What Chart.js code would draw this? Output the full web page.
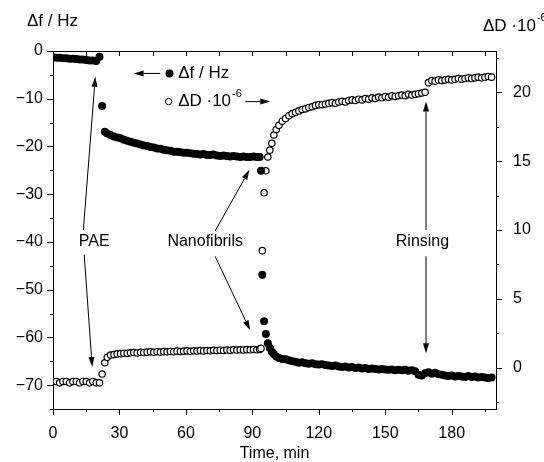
<!DOCTYPE html>
<html>
<head>
<meta charset="utf-8">
<script src="https://cdn.jsdelivr.net/npm/chart.js@4.4.1/dist/chart.umd.min.js"></script>
<style>
  html, body { margin: 0; padding: 0; background: #fff; }
  #chart { display: block; }
</style>
</head>
<body>
<canvas id="chart" width="544" height="462"></canvas>
<script>
// time in minutes, shared by both series
const time = [
  0, 1.5, 3, 4.5, 6, 7.5, 9, 10.5, 12, 13.5, 15, 16.5, 18, 19.5, 21,
  22.2, 23.4, 24.5, 26,
  27.5, 29, 30.5, 32, 33.5, 35, 36.5, 38, 39.5, 41,
  42.5, 44, 45.5, 47, 48.5, 50, 51.5, 53, 54.5, 56,
  57.5, 59, 60.5, 62, 63.5, 65, 66.5, 68, 69.5, 71,
  72.5, 74, 75.5, 77, 78.5, 80, 81.5, 83, 84.5, 86,
  87.5, 89, 90.5, 92, 93.3,
  93.9, 94.5, 95.3, 96.1, 97.0, 97.9, 98.8, 99.7, 100.8, 102, 103.5, 105, 106.5, 108,
  109.5, 111, 112.5, 114, 115.5, 117, 118.5, 120, 121.5, 123,
  124.5, 126, 127.5, 129, 130.5, 132, 133.5, 135, 136.5, 138,
  139.5, 141, 142.5, 144, 145.5, 147, 148.5, 150, 151.5, 153,
  154.5, 156, 157.5, 159, 160.5, 162, 163.5, 165, 166.5, 168,
  169.5, 171, 172.5, 174, 175.5, 177, 178.5, 180, 181.5, 183,
  184.5, 186, 187.5, 189, 190.5, 192, 193.5, 195, 196.5, 198
];

// frequency shift, Hz (left axis, filled circles)
const deltaF = [
  -1.3, -1.4, -1.4, -1.5, -1.5, -1.6, -1.6, -1.7, -1.8, -1.8, -1.9, -2.0, -2.0, -2.1, -1.2,
  -11.5, -16.9, -17.3, -17.6,
  -17.9, -18.1, -18.3, -18.6, -18.8, -19.0, -19.2, -19.4, -19.6, -19.8,
  -19.9, -20.1, -20.2, -20.4, -20.5, -20.7, -20.8, -20.9, -21.1, -21.1,
  -21.2, -21.3, -21.3, -21.4, -21.5, -21.6, -21.7, -21.6, -21.8, -21.8,
  -21.7, -21.9, -22.0, -21.9, -22.0, -22.1, -22.0, -22.1, -22.2, -22.1,
  -22.2, -22.2, -22.1, -22.2, -22.2,
  -25.1, -46.9, -56.6, -59.3, -61.2, -62.2, -63.0, -63.5, -64.0, -64.3, -64.5, -64.6, -64.8, -65.0,
  -65.1, -65.3, -65.2, -65.4, -65.5, -65.4, -65.6, -65.7, -65.6, -65.8,
  -65.9, -66.0, -65.9, -66.1, -66.2, -66.1, -66.3, -66.2, -66.4, -66.3,
  -66.5, -66.4, -66.6, -66.5, -66.6, -66.7, -66.6, -66.7, -66.8, -66.7,
  -66.9, -66.8, -66.9, -66.8, -67.0, -66.9, -67.1, -67.8, -68.0, -67.5,
  -67.3, -67.6, -67.4, -67.7, -67.8, -68.0, -68.1, -68.0, -68.2, -68.1,
  -68.2, -68.3, -68.1, -68.3, -68.2, -68.4, -68.3, -68.4, -68.5, -68.4
];

// dissipation shift, 1e-6 (right axis, open circles)
const deltaD = [
  -1.0, -1.0, -1.1, -1.0, -1.0, -1.1, -1.0, -1.0, -1.1, -1.0, -1.0, -1.1, -1.0, -1.1, -1.1,
  -0.46, 0.36, 0.75, 0.92,
  0.95, 1.0, 1.02, 1.05, 1.04, 1.08, 1.1, 1.07, 1.12, 1.1,
  1.13, 1.15, 1.12, 1.16, 1.14, 1.17, 1.15, 1.18, 1.16, 1.2,
  1.18, 1.2, 1.22, 1.19, 1.23, 1.21, 1.24, 1.22, 1.25, 1.23,
  1.26, 1.24, 1.27, 1.25, 1.28, 1.26, 1.3, 1.28, 1.3, 1.29,
  1.31, 1.3, 1.32, 1.3, 1.33,
  1.4, 8.5, 12.7, 14.3, 15.3, 15.8, 16.3, 16.9, 17.3, 17.6, 17.9, 18.1, 18.3, 18.45,
  18.55, 18.65, 18.75, 18.8, 18.9, 18.95, 19.05, 19.1, 19.1, 19.15,
  19.2, 19.25, 19.2, 19.3, 19.35, 19.3, 19.4, 19.45, 19.4, 19.5,
  19.45, 19.55, 19.5, 19.6, 19.55, 19.65, 19.6, 19.7, 19.65, 19.75,
  19.7, 19.75, 19.8, 19.75, 19.85, 19.8, 19.85, 19.9, 19.95, 20.0,
  20.7, 20.85, 20.8, 20.9, 20.85, 20.9, 20.95, 20.9, 20.95, 21.0,
  20.95, 21.0, 21.05, 21.0, 21.05, 21.1, 21.05, 21.1, 21.15, 21.1
];

const xTicks = [0, 30, 60, 90, 120, 150, 180];
const xMinorTicks = [15, 45, 75, 105, 135, 165, 195];
const fTicks = [0, -10, -20, -30, -40, -50, -60, -70];
const fMinorTicks = [-5, -15, -25, -35, -45, -55, -65, -75];
const dTicks = [0, 5, 10, 15, 20];
const dMinorTicks = [-2.5, 2.5, 7.5, 12.5, 17.5, 22.5];

// labels and arrows, placed in data units (time, Δf)
const labels = [
  { text: 'PAE', t: 18.6, f: -40 },
  { text: 'Nanofibrils', t: 68.7, f: -40 },
  { text: 'Rinsing', t: 166.8, f: -40 }
];
const arrows = [
  { from: [13.7, -37.5], to: [19.1, -5.4] },
  { from: [14.1, -42.7], to: [17.7, -66.2] },
  { from: [73.2, -37.7], to: [88.7, -24.9] },
  { from: [73.2, -43.0], to: [89.0, -58.5] },
  { from: [168.4, -37.5], to: [168.4, -10.6] },
  { from: [168.4, -43.0], to: [168.4, -63.3] },
  { from: [48.4, -4.7], to: [36.4, -4.7] },
  { from: [86.8, -10.6], to: [98.1, -10.6] }
];

const FONT = '"Liberation Sans", Arial, sans-serif';

const decorations = {
  id: 'decorations',
  afterDraw(chart) {
    const { ctx, chartArea: area } = chart;
    const { x, yF, yD } = chart.scales;
    const crisp = v => Math.round(v) + 0.5;
    const seg = (x1, y1, x2, y2) => {
      ctx.beginPath();
      ctx.moveTo(x1, y1);
      ctx.lineTo(x2, y2);
      ctx.stroke();
    };

    ctx.save();
    ctx.strokeStyle = '#000';
    ctx.fillStyle = '#000';
    ctx.lineWidth = 1;

    // top frame line
    seg(area.left, crisp(area.top), area.right, crisp(area.top));

    // tick marks
    xTicks.forEach(v => { const p = crisp(x.getPixelForValue(v)); seg(p, area.bottom, p, area.bottom + 6); });
    xMinorTicks.forEach(v => { const p = crisp(x.getPixelForValue(v)); seg(p, area.bottom, p, area.bottom + 3); });
    xTicks.concat(xMinorTicks).forEach(v => {
      const p = crisp(x.getPixelForValue(v));
      if (p > area.left + 1 && p < area.right - 1) seg(p, area.top, p, area.top + 5);
    });
    fTicks.forEach(v => { const p = crisp(yF.getPixelForValue(v)); seg(area.left - 6, p, area.left, p); });
    fMinorTicks.forEach(v => { const p = crisp(yF.getPixelForValue(v)); seg(area.left - 3, p, area.left, p); });
    dTicks.forEach(v => { const p = crisp(yD.getPixelForValue(v)); seg(area.right, p, area.right + 6, p); });
    dMinorTicks.forEach(v => { const p = crisp(yD.getPixelForValue(v)); seg(area.right, p, area.right + 3, p); });

    // arrows
    arrows.forEach(a => {
      const x1 = x.getPixelForValue(a.from[0]), y1 = yF.getPixelForValue(a.from[1]);
      const x2 = x.getPixelForValue(a.to[0]), y2 = yF.getPixelForValue(a.to[1]);
      const ang = Math.atan2(y2 - y1, x2 - x1);
      const len = 10, half = 3;
      const bx = x2 - len * Math.cos(ang), by = y2 - len * Math.sin(ang);
      seg(x1, y1, bx, by);
      ctx.beginPath();
      ctx.moveTo(x2, y2);
      ctx.lineTo(bx + half * Math.sin(ang), by - half * Math.cos(ang));
      ctx.lineTo(bx - half * Math.sin(ang), by + half * Math.cos(ang));
      ctx.closePath();
      ctx.fill();
    });

    // annotation labels
    ctx.font = '16px ' + FONT;
    ctx.textAlign = 'center';
    ctx.textBaseline = 'middle';
    labels.forEach(l => ctx.fillText(l.text, x.getPixelForValue(l.t), yF.getPixelForValue(l.f)));

    // legend
    const lx = x.getPixelForValue(56.5);
    const ly1 = yF.getPixelForValue(-4.7);
    const ly2 = yF.getPixelForValue(-10.6);
    ctx.beginPath();
    ctx.arc(x.getPixelForValue(52.6), ly1, 4, 0, Math.PI * 2);
    ctx.fill();
    ctx.beginPath();
    ctx.arc(x.getPixelForValue(52.2), ly2, 3.2, 0, Math.PI * 2);
    ctx.fillStyle = '#fff';
    ctx.fill();
    ctx.stroke();
    ctx.fillStyle = '#000';
    ctx.textAlign = 'left';
    ctx.font = '17px ' + FONT;
    ctx.fillText('\u0394f / Hz', lx, ly1);
    ctx.fillText('\u0394D \u00b710', lx, ly2);
    let w = ctx.measureText('\u0394D \u00b710').width;
    ctx.font = '11px ' + FONT;
    ctx.fillText('-6', lx + w + 1, ly2 - 8);

    // axis titles
    ctx.font = '17px ' + FONT;
    ctx.fillText('\u0394f / Hz', 27, 21);
    ctx.fillText('\u0394D \u00b710', 483, 26);
    w = ctx.measureText('\u0394D \u00b710').width;
    ctx.font = '11px ' + FONT;
    ctx.fillText('-6', 483 + w + 1, 18);
    ctx.font = '16px ' + FONT;
    ctx.textAlign = 'center';
    ctx.fillText('Time, min', (area.left + area.right) / 2, 454);

    ctx.restore();
  }
};

const tickFont = { family: FONT, size: 16 };

new Chart(document.getElementById('chart'), {
  type: 'scatter',
  data: {
    datasets: [
      {
        label: '\u0394f / Hz',
        data: time.map((t, i) => ({ x: t, y: deltaF[i] })),
        yAxisID: 'yF',
        pointRadius: 4,
        pointBackgroundColor: '#000',
        pointBorderColor: '#000',
        pointBorderWidth: 0
      },
      {
        label: '\u0394D',
        data: time.map((t, i) => ({ x: t, y: deltaD[i] })),
        yAxisID: 'yD',
        pointRadius: 3.2,
        pointBackgroundColor: '#fff',
        pointBorderColor: '#000',
        pointBorderWidth: 1.2
      }
    ]
  },
  options: {
    responsive: false,
    animation: false,
    devicePixelRatio: 1,
    layout: { padding: { top: 51, left: 0, right: 0, bottom: 0 } },
    plugins: { legend: { display: false }, tooltip: { enabled: false } },
    scales: {
      x: {
        type: 'linear',
        position: 'bottom',
        min: 0,
        max: 200,
        afterBuildTicks: s => { s.ticks = xTicks.map(v => ({ value: v })); },
        afterFit: s => { s.height = 53; },
        grid: { display: false },
        border: { display: true, color: '#000', width: 1 },
        ticks: { color: '#000', font: tickFont, padding: 7, maxRotation: 0, autoSkip: false }
      },
      yF: {
        type: 'linear',
        position: 'left',
        min: -75,
        max: 0,
        afterBuildTicks: s => { s.ticks = fTicks.map(v => ({ value: v })); },
        afterFit: s => { s.width = 53; },
        grid: { display: false },
        border: { display: true, color: '#000', width: 1 },
        ticks: { color: '#000', font: tickFont, padding: 2, callback: v => String(v).replace('-', '\u2212') }
      },
      yD: {
        type: 'linear',
        position: 'right',
        min: -3,
        max: 23,
        afterBuildTicks: s => { s.ticks = dTicks.map(v => ({ value: v })); },
        afterFit: s => { s.width = 48; },
        grid: { display: false },
        border: { display: true, color: '#000', width: 1 },
        ticks: { color: '#000', font: tickFont, padding: 9 }
      }
    }
  },
  plugins: [decorations]
});
</script>
</body>
</html>
